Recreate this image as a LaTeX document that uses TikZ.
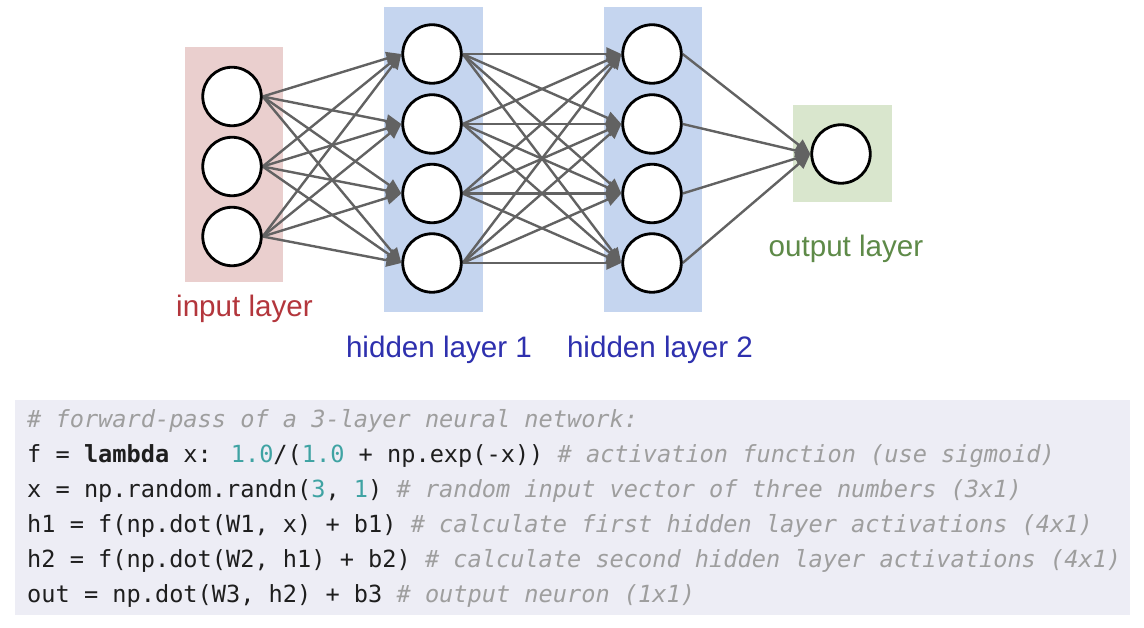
\documentclass[tikz,border=0pt]{standalone}
\usepackage{fontspec}
\setmainfont{Liberation Sans}
\newfontfamily\codefont{DejaVu Sans Mono}[BoldFont={DejaVu Sans Mono Bold},ItalicFont={DejaVu Sans Mono Oblique}]
\usetikzlibrary{arrows.meta}
\definecolor{inboxc}{HTML}{EACFCE}
\definecolor{hidboxc}{HTML}{C5D5EF}
\definecolor{outboxc}{HTML}{D9E6CD}
\definecolor{codebg}{HTML}{EDEDF5}
\definecolor{inlab}{HTML}{B3363C}
\definecolor{hidlab}{HTML}{2E30AE}
\definecolor{outlab}{HTML}{5E8A48}
\definecolor{edgec}{HTML}{626262}
\definecolor{cmtc}{HTML}{9E9E9E}
\definecolor{numc}{HTML}{3FA3A3}
\definecolor{codetxt}{HTML}{1E1E1E}
\pgfdeclarelayer{bg}
\pgfdeclarelayer{edges}
\pgfsetlayers{bg,edges,main}
\newcommand{\cmt}[1]{\textcolor{cmtc}{\itshape #1}}
\newcommand{\nm}[1]{\textcolor{numc}{#1}}
\begin{document}
\begin{tikzpicture}[x=1pt,y=-1pt,
  neuron/.style={circle,draw=black,line width=2.8pt,fill=white,minimum size=58.5pt,inner sep=0pt},
  conn/.style={draw=edgec,line width=2.4pt,-{Triangle[length=15pt,width=13pt]}},
  lab/.style={anchor=base,font=\fontsize{29.6}{34}\selectfont,inner sep=0pt},
  codeline/.style={anchor=base west,inner sep=0pt,text=codetxt,font=\codefont\fontsize{23.6}{28}\selectfont}]
\useasboundingbox (0,0) rectangle (1144,628);
% background and layer boxes
\begin{pgfonlayer}{bg}
\fill[white] (0,0) rectangle (1144,628);
\fill[inboxc] (185,47) rectangle (283,282);
\fill[hidboxc] (384,7) rectangle (483,312);
\fill[hidboxc] (604,7) rectangle (702,312);
\fill[outboxc] (793,105) rectangle (892,202);
\fill[codebg] (15,400) rectangle (1130,615);
\end{pgfonlayer}
% neurons
\node[neuron] (i1) at (232,96.5) {};
\node[neuron] (i2) at (232,166.5) {};
\node[neuron] (i3) at (232,236.5) {};
\node[neuron] (a1) at (432,54) {};
\node[neuron] (a2) at (432,124) {};
\node[neuron] (a3) at (432,193.5) {};
\node[neuron] (a4) at (432,263) {};
\node[neuron] (b1) at (652,54) {};
\node[neuron] (b2) at (652,124) {};
\node[neuron] (b3) at (652,193.5) {};
\node[neuron] (b4) at (652,263) {};
\node[neuron] (o1) at (841,154) {};
% connections
\begin{pgfonlayer}{edges}
\foreach \s in {i1,i2,i3}{\foreach \t in {a1,a2,a3,a4}{\draw[conn] (\s.east) -- (\t.west);}}
\foreach \s in {a1,a2,a3,a4}{\foreach \t in {b1,b2,b3,b4}{\draw[conn] (\s.east) -- (\t.west);}}
\foreach \s in {b1,b2,b3,b4}{\draw[conn] (\s.east) -- (o1.west);}
\end{pgfonlayer}
% labels
\node[lab,text=inlab] (linput) at (244.5,317) {input layer};
\node[lab,text=hidlab] (lh1) at (439,358) {hidden layer 1};
\node[lab,text=hidlab] (lh2) at (660,358) {hidden layer 2};
\node[lab,text=outlab] (lout) at (846,257) {output layer};
% code
\node[codeline] (c1) at (27,428) {\cmt{\# forward-pass of a 3-layer neural network:}};
\node[codeline] (c2) at (27,462.8) {f = \textbf{lambda} x: \nm{1.0}/(\nm{1.0} + np.exp(-x)) \cmt{\# activation function (use sigmoid)}};
\node[codeline] (c3) at (27,497.6) {x = np.random.randn(\nm{3}, \nm{1}) \cmt{\# random input vector of three numbers (3x1)}};
\node[codeline] (c4) at (27,532.4) {h1 = f(np.dot(W1, x) + b1) \cmt{\# calculate first hidden layer activations (4x1)}};
\node[codeline] (c5) at (27,567.2) {h2 = f(np.dot(W2, h1) + b2) \cmt{\# calculate second hidden layer activations (4x1)}};
\node[codeline] (c6) at (27,602) {out = np.dot(W3, h2) + b3 \cmt{\# output neuron (1x1)}};
\end{tikzpicture}
\end{document}
